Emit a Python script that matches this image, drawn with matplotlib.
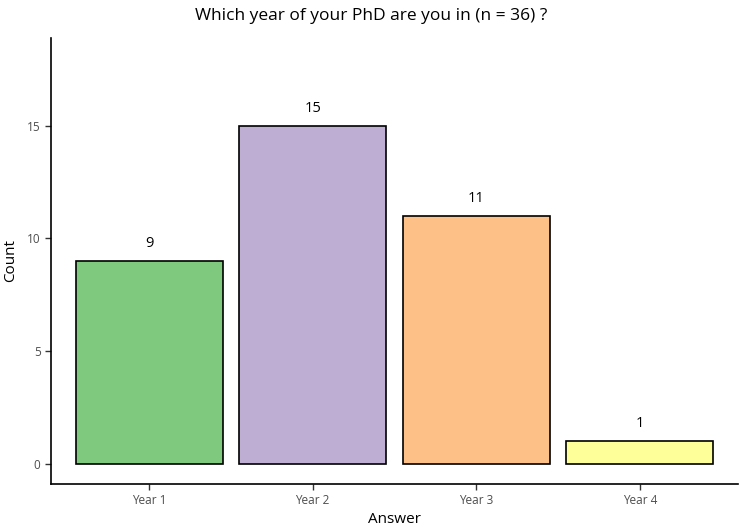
import numpy as np
import matplotlib.pyplot as plt

categories = ['Year 1', 'Year 2', 'Year 3', 'Year 4']
counts = [9, 15, 11, 1]
colors = ['#7FC97F', '#BEAED4', '#FDC086', '#FFFF99']

plt.rcParams['font.family'] = ['Open Sans', 'DejaVu Sans']

fig = plt.figure(figsize=(7.43, 5.3), dpi=100)
ax = fig.add_axes([51 / 743, 46 / 530, 687 / 743, 446 / 530])

x = np.arange(1, len(categories) + 1)
ax.bar(x, counts, width=0.9, color=colors, edgecolor='black', linewidth=1.2)
for xi, c in zip(x, counts):
    ax.text(xi, c + 0.45, str(c), ha='center', va='bottom', fontsize=10.5)

ax.set_xlim(0.4, 4.6)
ax.set_ylim(-0.9, 18.9)
ax.set_xticks(x)
ax.set_xticklabels(categories)
ax.set_yticks([0, 5, 10, 15])
ax.tick_params(axis='both', labelsize=8.5, labelcolor='#4D4D4D', length=4, width=1, color='#333333')
for side in ['top', 'right']:
    ax.spines[side].set_visible(False)
for side in ['left', 'bottom']:
    ax.spines[side].set_linewidth(1.2)

ax.set_xlabel('Answer', fontsize=11, labelpad=3)
ax.set_ylabel('Count', fontsize=11, labelpad=6)
fig.suptitle('Which year of your PhD are you in (n = 36) ?', fontsize=12.5, y=0.985)

fig.savefig('out.png', dpi=100)
